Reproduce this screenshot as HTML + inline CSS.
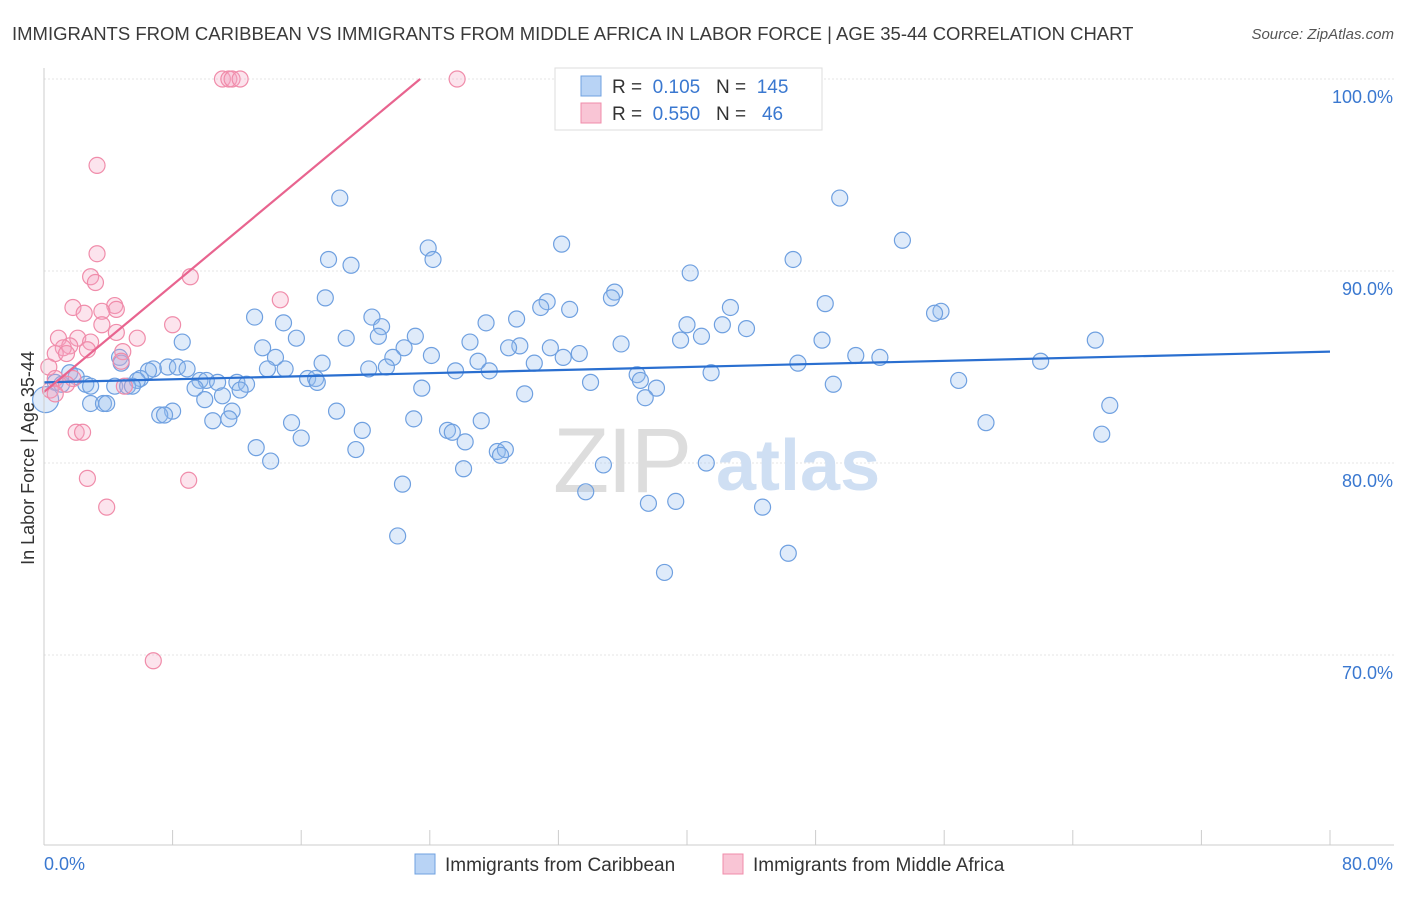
<!DOCTYPE html>
<html><head><meta charset="utf-8">
<style>
body{margin:0;background:#fff;font-family:"Liberation Sans",sans-serif;}
svg text{font-family:"Liberation Sans",sans-serif;}
</style></head>
<body>
<svg id="chart" width="1406" height="892" viewBox="0 0 1406 892" xmlns="http://www.w3.org/2000/svg">
<text x="12" y="40" font-size="18.5" fill="#3a3a3a">IMMIGRANTS FROM CARIBBEAN VS IMMIGRANTS FROM MIDDLE AFRICA IN LABOR FORCE | AGE 35-44 CORRELATION CHART</text>
<text x="1394" y="39" font-size="15" fill="#555" font-style="italic" text-anchor="end">Source: ZipAtlas.com</text>
<g id="grid"></g>
<g>
<text x="553" y="492" font-size="92" fill="#ddd" font-family="Liberation Serif" letter-spacing="-2">ZIP</text>
<text x="716" y="490" font-size="72" fill="#cfdff3" font-weight="bold">atlas</text>
</g>
<g id="pts"></g>
<g id="trend"></g>
<g id="axes"></g>
<text transform="translate(34,458) rotate(-90)" font-size="18" fill="#333" text-anchor="middle">In Labor Force | Age 35-44</text>
<g>
<rect x="555" y="68" width="267" height="62" fill="#fff" stroke="#ddd"/>
<rect x="581" y="76" width="20" height="20" fill="#b8d3f5" stroke="#6fa0e0"/>
<rect x="581" y="103" width="20" height="20" fill="#f9c5d5" stroke="#f08caa"/>
<text x="612" y="93" font-size="19" fill="#333">R = <tspan fill="#3a78d0">&#160;0.105</tspan>&#160;&#160;&#160;N = <tspan fill="#3a78d0">&#160;145</tspan></text>
<text x="612" y="120" font-size="19" fill="#333">R = <tspan fill="#3a78d0">&#160;0.550</tspan>&#160;&#160;&#160;N = <tspan fill="#3a78d0">&#160;&#160;46</tspan></text>
</g>
<g>
<rect x="415" y="854" width="20" height="20" fill="#b8d3f5" stroke="#6fa0e0"/>
<text x="445" y="871" font-size="19" fill="#333">Immigrants from Caribbean</text>
<rect x="723" y="854" width="20" height="20" fill="#f9c5d5" stroke="#f08caa"/>
<text x="753" y="871" font-size="19" fill="#333">Immigrants from Middle Africa</text>
</g>
</svg>
<script>
const blueX=[18.4,49.5,53.4,32.2,23.9,24.2,17.7,19.1,46.6,40.2,35.5,35.3,17.5,31.3,30.9,32.7,42.7,48.6,55.8,55.4,13.1,20.4,27.5,29.4,40.0,42.2,43.7,14.9,21.0,8.6,15.7,18.8,20.8,23.1,26.5,29.6,28.9,31.5,35.9,39.6,40.9,48.4,65.4,13.6,22.4,24.1,33.3,32.3,50.5,52.0,62.0,14.4,17.3,21.7,27.0,30.5,46.9,4.7,4.8,7.7,6.8,6.5,8.3,8.9,13.9,15.0,20.2,21.3,25.6,27.7,36.9,41.5,1.6,2.0,6.0,5.8,9.7,10.1,10.8,12.0,12.6,16.4,16.9,17.0,37.1,56.9,49.1,34.0,0.7,1.1,2.6,2.9,4.4,5.2,5.5,9.4,12.2,23.5,29.9,38.1,11.1,0.1,2.9,3.7,3.9,10.0,37.4,66.3,8.0,11.7,18.2,7.2,7.5,10.5,11.5,15.4,23.0,27.2,58.6,19.8,25.1,25.4,65.8,16.0,26.2,13.2,19.4,28.2,28.7,28.4,14.1,34.8,41.2,26.1,22.3,33.7,37.6,39.3,44.7,22.0,46.3,38.6];
const blueY=[93.8,93.8,91.6,91.4,91.2,90.6,90.6,90.3,90.6,89.9,88.9,88.6,88.6,88.4,88.1,88.0,88.1,88.3,87.9,87.8,87.6,87.6,87.3,87.5,87.2,87.2,87.0,87.3,87.1,86.3,86.5,86.5,86.6,86.6,86.3,86.1,86.0,86.0,86.2,86.4,86.6,86.4,86.4,86.0,86.0,85.6,85.7,85.5,85.6,85.5,85.3,85.5,85.2,85.5,85.3,85.2,85.2,85.5,85.2,85.0,84.9,84.8,85.0,84.9,84.9,84.9,84.9,85.0,84.8,84.8,84.6,84.7,84.7,84.5,84.4,84.3,84.3,84.3,84.2,84.2,84.1,84.4,84.4,84.2,84.3,84.3,84.1,84.2,84.2,84.1,84.1,84.0,84.0,84.0,84.0,83.9,83.8,83.9,83.6,83.9,83.5,83.3,83.1,83.1,83.1,83.3,83.4,83.0,82.7,82.7,82.7,82.5,82.5,82.2,82.3,82.1,82.3,82.2,82.1,81.7,81.7,81.6,81.5,81.3,81.1,80.8,80.7,80.6,80.7,80.4,80.1,79.9,80.0,79.7,78.9,78.5,77.9,78.0,77.7,76.2,75.3,74.3];
const pinkX=[11.1,11.5,11.7,12.2,25.7,3.3,3.3,9.1,2.9,3.2,14.7,1.8,4.4,4.5,2.5,3.6,3.6,8.0,4.5,0.9,2.1,5.8,2.9,1.6,1.2,0.7,1.4,2.7,4.9,4.8,0.3,0.7,1.8,1.4,0.4,0.7,5.0,2.0,2.4,2.7,9.0,3.9,6.8];
const pinkY=[100,100,100,100,100,95.5,90.9,89.7,89.7,89.4,88.5,88.1,88.2,88.0,87.8,87.9,87.2,87.2,86.8,86.5,86.5,86.5,86.3,86.1,86.0,85.7,85.7,85.9,85.8,85.3,85.0,84.4,84.4,84.1,83.8,83.6,84.0,81.6,81.6,79.2,79.1,77.7,69.7];
const blueTrend=[[0,84.2],[80,85.8]];
const pinkTrend=[[0,83.7],[23.4,100]];
const yTicks=[100,90,80,70];
const yTickLabels=["100.0%","90.0%","80.0%","70.0%"];
const xTicks=[0,8,16,24,32,40,48,56,64,72,80];

const NS="http://www.w3.org/2000/svg";
const X=v=>44+v/80*1286;
const Y=v=>79+(100-v)*19.2;
function mk(tag,attrs,parent){const e=document.createElementNS(NS,tag);for(const k in attrs)e.setAttribute(k,attrs[k]);parent.appendChild(e);return e;}
const grid=document.getElementById('grid'),axes=document.getElementById('axes'),pts=document.getElementById('pts'),trend=document.getElementById('trend');
yTicks.forEach((t,i)=>{
  const l=mk('line',{x1:44,x2:1394,y1:Y(t),y2:Y(t),stroke:'#e6e6e6','stroke-dasharray':'2,2'},grid);
  
  
  const tx=mk('text',{x:1393,y:Y(t)+24,'font-size':18,fill:'#3a78d0','text-anchor':'end'},axes);
  tx.textContent=yTickLabels[i];
  
  
});
const ax=mk('line',{x1:44,x2:1394,y1:845,y2:845,stroke:'#ccc'},axes);


const ay=mk('line',{x1:44,x2:44,y1:68,y2:845,stroke:'#ccc'},axes);


xTicks.forEach(t=>{
  const l=mk('line',{x1:X(t),x2:X(t),y1:830,y2:845,stroke:'#ccc'},axes);
  
  
});
const xl0=mk('text',{x:44,y:870,'font-size':18,fill:'#3a78d0'},axes);xl0.textContent='0.0%';


const xl1=mk('text',{x:1393,y:870,'font-size':18,fill:'#3a78d0','text-anchor':'end'},axes);xl1.textContent='80.0%';


blueX.forEach((v,i)=>{
  const c=mk('circle',{cx:X(v),cy:Y(blueY[i]),r:i==101?13:8,fill:'rgba(150,190,240,0.3)',stroke:'#6fa0e0','stroke-width':1.2},pts);
  
  
});
pinkX.forEach((v,i)=>{
  const c=mk('circle',{cx:X(v),cy:Y(pinkY[i]),r:8,fill:'rgba(245,165,195,0.3)',stroke:'#f08caa','stroke-width':1.2},pts);
  
  
});
const bt=mk('line',{x1:X(blueTrend[0][0]),y1:Y(blueTrend[0][1]),x2:X(blueTrend[1][0]),y2:Y(blueTrend[1][1]),stroke:'#2a6fd0','stroke-width':2.2},trend);


const pt=mk('line',{x1:X(pinkTrend[0][0]),y1:Y(pinkTrend[0][1]),x2:X(pinkTrend[1][0]),y2:Y(pinkTrend[1][1]),stroke:'#e8648f','stroke-width':2.2},trend);


</script>
</body></html>
